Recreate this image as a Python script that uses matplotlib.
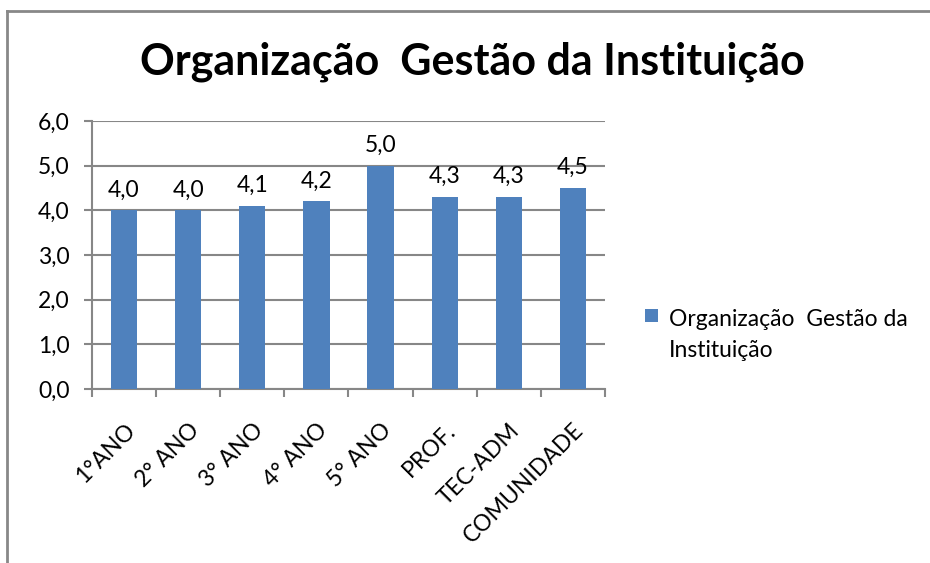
import matplotlib.pyplot as plt
import numpy as np
from matplotlib.lines import Line2D

# Data
categories = ['1°ANO', '2° ANO', '3° ANO', '4° ANO', '5° ANO', 'PROF.', 'TEC-ADM', 'COMUNIDADE']
values = [4.0, 4.0, 4.1, 4.2, 5.0, 4.3, 4.3, 4.5]
series_name = 'Organização  Gestão da\nInstituição'
title = 'Organização  Gestão da Instituição'
y_ticks = [0, 1, 2, 3, 4, 5, 6]

bar_color = '#4F81BD'
grid_color = '#878787'

plt.rcParams['font.family'] = ['Lato', 'DejaVu Sans']

fig = plt.figure(figsize=(9.3, 5.63), dpi=100)
ax = fig.add_axes([0.0989, 0.309, 0.5516, 0.476])

x = np.arange(len(categories))
ax.bar(x, values, width=0.41, color=bar_color, label=series_name, zorder=3)

# Data labels with decimal comma
for xi, v in zip(x, values):
    ax.annotate(f'{v:.1f}'.replace('.', ','), (xi, v), xytext=(0, 7),
                textcoords='offset points', ha='center', va='bottom', fontsize=16.5)

ax.set_xlim(-0.5, len(categories) - 0.5)
ax.set_ylim(0, 6)
ax.set_yticks(y_ticks)
ax.set_yticklabels([f'{t:.1f}'.replace('.', ',') for t in y_ticks], fontsize=16.5)
ax.yaxis.grid(True, color=grid_color, linewidth=1.5, zorder=0)
ax.tick_params(axis='y', length=6, width=1.5, color=grid_color, pad=10)

ax.set_xticks(x)
ax.set_xticklabels(categories, rotation=45, ha='right', rotation_mode='anchor', fontsize=16.5)
ax.tick_params(axis='x', which='major', length=0, pad=22)
ax.set_xticks(np.arange(len(categories) + 1) - 0.5, minor=True)
ax.tick_params(axis='x', which='minor', length=6, width=1.5, color=grid_color)

for side in ['top', 'right']:
    ax.spines[side].set_visible(False)
for side in ['left', 'bottom']:
    ax.spines[side].set_color(grid_color)
    ax.spines[side].set_linewidth(1.5)

fig.text(0.508, 0.89, title, ha='center', va='center', fontsize=31, fontweight='bold')

leg = ax.legend(loc='upper left', bbox_to_anchor=(0.6935, 0.452), bbox_transform=fig.transFigure,
                frameon=False, fontsize=16.5, handlelength=0.55, handleheight=0.55,
                handletextpad=0.5, borderaxespad=0, borderpad=0)
for t in leg.get_texts():
    t.set_linespacing(1.6)
for col in leg._legend_handle_box.get_children():
    for row in col.get_children():
        row.align = 'top'

# Chart area frame (left and top edges visible)
fig.add_artist(Line2D([0.0075, 0.0075], [0, 0.98], transform=fig.transFigure,
                      color='#888888', linewidth=2))
fig.add_artist(Line2D([0.0075, 1.0], [0.98, 0.98], transform=fig.transFigure,
                      color='#888888', linewidth=2))

fig.savefig('out.png', dpi=100)
